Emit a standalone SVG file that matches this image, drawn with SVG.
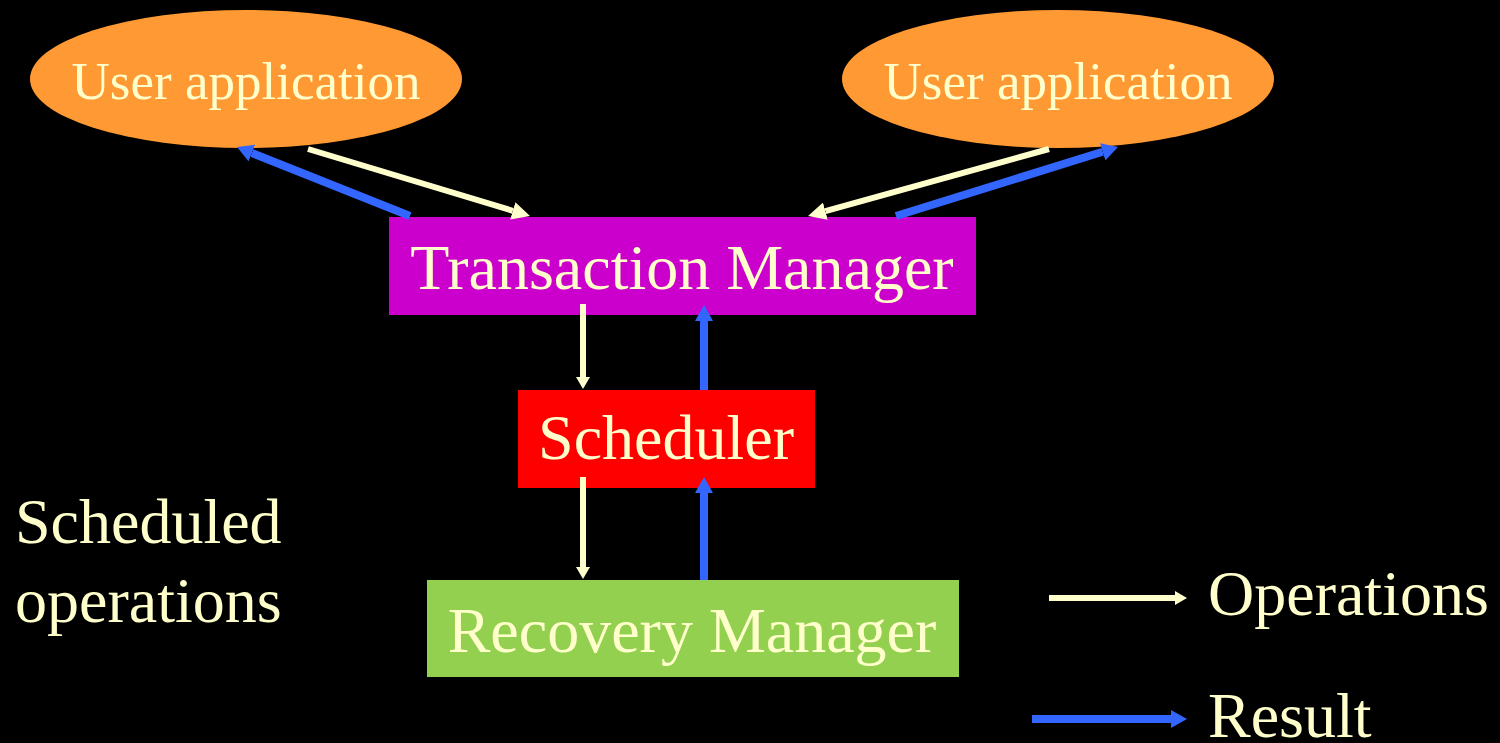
<svg xmlns="http://www.w3.org/2000/svg" width="1500" height="743" viewBox="0 0 1500 743">
  <defs>
    <style>
      .lbl { font-family: "Liberation Serif", "Times New Roman", Times, serif; font-size: 64px; fill: #FFFFCC; }
      .app { font-size: 53px; }
      .op { stroke: #FFFFCC; stroke-width: 6; fill: none; marker-end: url(#headOp); }
      .opd { stroke: #FFFFCC; stroke-width: 6; fill: none; marker-end: url(#headOpBig); }
      .res { stroke: #3366FF; stroke-width: 8; fill: none; marker-end: url(#headRes); }
    </style>
    <!-- arrowheads sized in pixels; the line ends at the head's base -->
    <marker id="headOp" markerUnits="userSpaceOnUse" markerWidth="13" markerHeight="14" refX="0" refY="7" orient="auto" viewBox="0 0 13 14">
      <path d="M0,0 L12,7 L0,14 Z" fill="#FFFFCC"/>
    </marker>
    <marker id="headOpBig" markerUnits="userSpaceOnUse" markerWidth="19" markerHeight="18" refX="0" refY="9" orient="auto" viewBox="0 0 19 18">
      <path d="M0,0 L18,9 L0,18 Z" fill="#FFFFCC"/>
    </marker>
    <marker id="headRes" markerUnits="userSpaceOnUse" markerWidth="17" markerHeight="18" refX="0" refY="9" orient="auto" viewBox="0 0 17 18">
      <path d="M0,0 L16,9 L0,18 Z" fill="#3366FF"/>
    </marker>
  </defs>

  <rect x="0" y="0" width="1500" height="743" fill="#000000"/>

  <g id="user-app-left">
    <ellipse cx="246" cy="79" rx="216" ry="69" fill="#FF9933"/>
    <text class="lbl app" x="246" y="99" text-anchor="middle">User application</text>
  </g>

  <g id="user-app-right">
    <ellipse cx="1058" cy="79" rx="216" ry="69" fill="#FF9933"/>
    <text class="lbl app" x="1058" y="99" text-anchor="middle">User application</text>
  </g>

  <g id="transaction-manager">
    <rect x="389" y="217" width="587" height="98" fill="#CC00CC"/>
    <text class="lbl" x="682" y="289" text-anchor="middle">Transaction Manager</text>
  </g>

  <g id="scheduler">
    <rect x="518" y="390" width="297" height="98" fill="#FF0000"/>
    <text class="lbl" x="666" y="459" text-anchor="middle">Scheduler</text>
  </g>

  <g id="recovery-manager">
    <rect x="427" y="580" width="532" height="97" fill="#94D050"/>
    <text class="lbl" x="692" y="652" text-anchor="middle">Recovery Manager</text>
  </g>

  <g id="scheduled-operations">
    <text class="lbl" x="15" y="543">Scheduled</text>
    <text class="lbl" x="15" y="622">operations</text>
  </g>

  <g id="connectors">
    <!-- between the user applications and the transaction manager -->
    <line class="res" x1="410" y1="216" x2="251.9" y2="153"/>
    <line class="opd" x1="308" y1="149" x2="512.8" y2="210.8"/>
    <line class="opd" x1="1049" y1="149" x2="825.4" y2="211.2"/>
    <line class="res" x1="896" y1="216" x2="1102.7" y2="151.8"/>
    <!-- transaction manager / scheduler -->
    <line class="op" x1="583" y1="304" x2="583" y2="377"/>
    <line class="res" x1="704" y1="390" x2="704" y2="321"/>
    <!-- scheduler / recovery manager -->
    <line class="op" x1="583" y1="477" x2="583" y2="567"/>
    <line class="res" x1="704" y1="580" x2="704" y2="493"/>
  </g>

  <g id="legend">
    <line class="op" x1="1049" y1="598" x2="1175" y2="598"/>
    <text class="lbl" x="1208" y="615">Operations</text>
    <line class="res" x1="1032" y1="719" x2="1171" y2="719"/>
    <text class="lbl" x="1208" y="737">Result</text>
  </g>
</svg>
